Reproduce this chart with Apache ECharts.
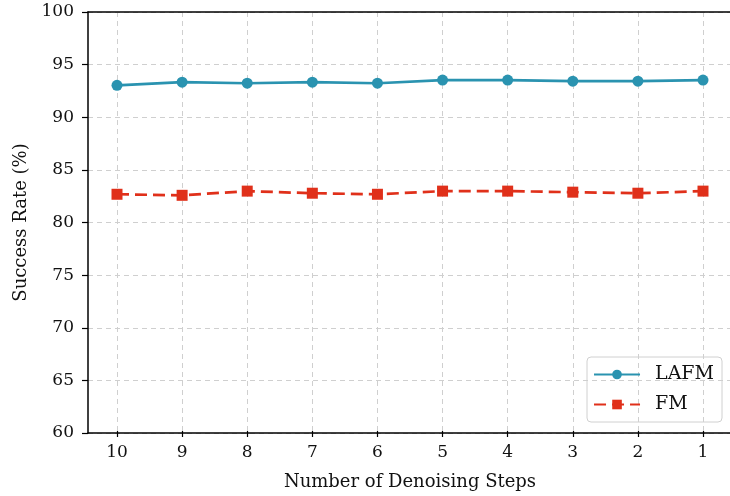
<!DOCTYPE html>
<html>
<head>
<meta charset="utf-8">
<script src="https://cdn.jsdelivr.net/npm/echarts@6/dist/echarts.min.js"></script>
<style>
  html, body { margin: 0; padding: 0; background: #fff; }
  #chart { width: 730px; height: 496px; }
</style>
</head>
<body>
<div id="chart"></div>
<script>
// denoising steps, from 10 down to 1
const steps = ["10", "9", "8", "7", "6", "5", "4", "3", "2", "1"];
const lafm = [93.0, 93.3, 93.2, 93.3, 93.2, 93.5, 93.5, 93.4, 93.4, 93.5];
const fm = [82.6, 82.5, 82.9, 82.7, 82.6, 82.9, 82.9, 82.8, 82.7, 82.9];
const yMin = 60, yMax = 100, yStep = 5;

const font = "DejaVu Serif";
const chart = echarts.init(document.getElementById("chart"));

const gridLine = { show: true, lineStyle: { color: "#cfcfcf", type: [5, 4], width: 1 } };

chart.setOption({
  animation: false,
  textStyle: { fontFamily: font },
  grid: [
    // data area (categories end 29px inside the frame)
    { left: 117, right: 27, top: 12, bottom: 63 },
    // frame
    { left: 88, right: 0, top: 12, bottom: 63 },
  ],
  xAxis: [
    {
      type: "category",
      gridIndex: 0,
      data: steps,
      boundaryGap: false,
      axisLine: { show: false },
      axisTick: { show: true, inside: false, length: 6, lineStyle: { color: "#000", width: 1.2 } },
      axisLabel: { color: "#111", fontSize: 17, fontFamily: font, margin: 13 },
      splitLine: gridLine,
      name: "Number of Denoising Steps",
      nameLocation: "middle",
      nameGap: 42,
      nameTextStyle: { color: "#111", fontSize: 18, fontFamily: font },
    },
    {
      type: "value",
      gridIndex: 1,
      position: "bottom",
      axisLine: { show: true, onZero: false, lineStyle: { color: "#000", width: 1.5 } },
      axisTick: { show: false },
      axisLabel: { show: false },
      splitLine: { show: false },
    },
    {
      type: "value",
      gridIndex: 1,
      position: "top",
      axisLine: { show: true, onZero: false, lineStyle: { color: "#000", width: 1.5 } },
      axisTick: { show: false },
      axisLabel: { show: false },
      splitLine: { show: false },
    },
  ],
  yAxis: [
    {
      type: "value",
      gridIndex: 0,
      min: yMin,
      max: yMax,
      show: false,
    },
    {
      type: "value",
      gridIndex: 1,
      min: yMin,
      max: yMax,
      interval: yStep,
      axisLine: { show: true, onZero: false, lineStyle: { color: "#000", width: 1.5 } },
      axisTick: { show: true, length: 6, lineStyle: { color: "#000", width: 1.2 } },
      axisLabel: { color: "#111", fontSize: 17, fontFamily: font, margin: 14 },
      splitLine: gridLine,
      name: "Success Rate (%)",
      nameLocation: "middle",
      nameGap: 58,
      nameTextStyle: { color: "#111", fontSize: 18, fontFamily: font },
    },
  ],
  legend: {
    right: 8,
    bottom: 74,
    orient: "vertical",
    itemWidth: 46,
    itemHeight: 12,
    itemGap: 11,
    padding: [8, 8, 8, 6],
    borderColor: "#d0d0d0",
    borderWidth: 1,
    borderRadius: 4,
    textStyle: { color: "#111", fontSize: 19, fontFamily: font, padding: [0, 0, 0, 10] },
    data: ["LAFM", "FM"],
  },
  series: [
    {
      name: "LAFM",
      type: "line",
      xAxisIndex: 0,
      yAxisIndex: 0,
      data: lafm,
      symbol: "circle",
      symbolSize: 11,
      color: "#2a93b0",
      lineStyle: { width: 2.7, color: "#2a93b0" },
      itemStyle: { color: "#2a93b0" },
    },
    {
      name: "FM",
      type: "line",
      xAxisIndex: 0,
      yAxisIndex: 0,
      data: fm,
      symbol: "rect",
      symbolSize: 11,
      color: "#e0301a",
      lineStyle: { width: 2.7, color: "#e0301a", type: [12, 6] },
      itemStyle: { color: "#e0301a" },
    },
  ],
});
</script>
</body>
</html>
